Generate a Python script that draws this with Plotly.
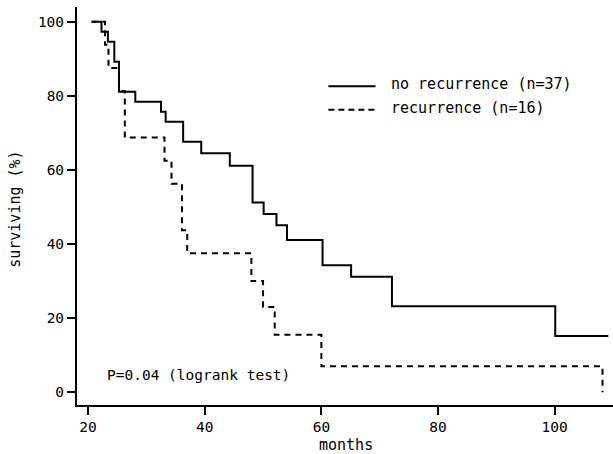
import plotly.graph_objects as go

# Kaplan-Meier step data (months, % surviving)
months_no_rec = [20.6, 22.3, 23.4, 24.5, 25.3, 28.1, 32.5, 33.3, 36.3, 39.4,
                 44.3, 48.2, 50.1, 52.3, 54.1, 60.2, 65.1, 72.1, 100.1, 109.2]
surv_no_rec = [100, 97.3, 94.6, 89.2, 81.1, 78.4, 75.7, 73.0, 67.6, 64.5,
               61.1, 51.2, 48.1, 45.1, 41.1, 34.3, 31.2, 23.2, 15.2, 15.2]

months_rec = [20.6, 22.9, 23.5, 25.3, 26.3, 33.1, 34.3, 36.1, 37.0, 48.0,
              50.0, 52.0, 60.0, 108.2]
surv_rec = [100, 93.75, 87.5, 81.25, 68.75, 62.5, 56.25, 43.75, 37.5, 30.0,
            23.0, 15.5, 7.0, 0.0]

x_ticks = [20, 40, 60, 80, 100]
y_ticks = [0, 20, 40, 60, 80, 100]

label_no_rec = "no recurrence (n=37)"
label_rec = "recurrence (n=16)"
p_text = "P=0.04 (logrank test)"

FONT = "DejaVu Sans Mono"

fig = go.Figure()
fig.add_trace(go.Scatter(
    x=months_no_rec, y=surv_no_rec, mode="lines", line_shape="hv",
    line=dict(color="black", width=2), name=label_no_rec, showlegend=False))
fig.add_trace(go.Scatter(
    x=months_rec, y=surv_rec, mode="lines", line_shape="hv",
    line=dict(color="black", width=2, dash="6px,5px"), name=label_rec,
    showlegend=False))

# hand-drawn legend: line samples plus text
legend_items = [(0.801, "solid", label_no_rec), (0.742, "6px,4px", label_rec)]
for y, dash, text in legend_items:
    fig.add_shape(type="line", xref="paper", yref="paper",
                  x0=0.469, x1=0.557, y0=y, y1=y,
                  line=dict(color="black", width=2, dash=dash))
    fig.add_annotation(xref="paper", yref="paper", x=0.583, y=y + 0.005,
                       text=text, showarrow=False, xanchor="left",
                       yanchor="middle", font=dict(family=FONT, size=15, color="black"))

fig.add_annotation(xref="paper", yref="paper", x=0.052, y=0.075, text=p_text,
                   showarrow=False, xanchor="left", yanchor="middle",
                   font=dict(family=FONT, size=14.5, color="black"))
fig.add_annotation(xref="paper", yref="paper", x=0.501, y=-0.1, text="months",
                   showarrow=False, xanchor="center", yanchor="middle",
                   font=dict(family=FONT, size=15, color="black"))
fig.add_annotation(xref="paper", yref="paper", x=-0.116, y=0.4925,
                   text="surviving (%)", textangle=-90, showarrow=False,
                   xanchor="center", yanchor="middle",
                   font=dict(family=FONT, size=15, color="black"))

axis_common = dict(showline=True, linecolor="black", linewidth=2,
                   ticks="outside", ticklen=8, tickwidth=2, tickcolor="black",
                   showgrid=False, zeroline=False, mirror=False,
                   tickfont=dict(family=FONT, size=14.5, color="black"))
fig.update_xaxes(range=[18.1, 110.0], tickvals=x_ticks, **axis_common)
fig.update_yaxes(range=[-3.43, 103.97], tickvals=y_ticks, **axis_common)

fig.update_layout(
    width=613, height=454,
    margin=dict(l=77, r=0, t=7, b=49),
    plot_bgcolor="white", paper_bgcolor="white",
    showlegend=False,
)

fig.write_html("out.html")
